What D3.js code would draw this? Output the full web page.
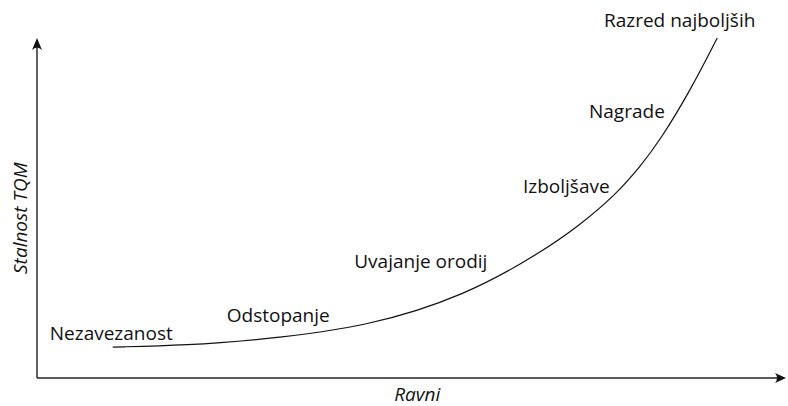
<!DOCTYPE html>
<html><head><meta charset="utf-8">
<script src="https://cdn.jsdelivr.net/npm/d3@7"></script>
<style>
html,body{margin:0;padding:0;background:#fff;}
text{font-family:"Open Sans",sans-serif;fill:#111;}
</style></head>
<body><svg id="c" width="788" height="406"></svg>
<script>
const curveX = [1.01, 2.0, 3.01, 4.4, 5.73, 6.71, 7.24, 7.71, 8.04, 8.31, 8.71, 9.07];
const curveY = [0.91, 0.96, 1.13, 1.5, 2.44, 3.68, 4.5, 5.38, 6.21, 7.0, 8.45, 10.0];
const stageLabels = ["Nezavezanost", "Odstopanje", "Uvajanje orodij", "Izboljšave", "Nagrade", "Razred najboljših"];
const stageX = [0.17, 2.53, 4.23, 6.48, 7.36, 7.56];
const stageY = [1.11, 1.65, 3.24, 5.44, 7.65, 10.32];
const xTitle = "Ravni";
const yTitle = "Stalnost TQM";

const svg = d3.select("#c");
const x = d3.scaleLinear().domain([0, 10]).range([37, 787]);
const y = d3.scaleLinear().domain([0, 10]).range([378, 38]);

// axes
const ax = "#222";
svg.append("line").attr("x1", x(0)).attr("x2", x(10) - 4).attr("y1", y(0)).attr("y2", y(0))
  .attr("stroke", ax).attr("stroke-width", 1.4);
svg.append("line").attr("x1", x(0)).attr("x2", x(0)).attr("y1", y(0)).attr("y2", y(10) + 4)
  .attr("stroke", ax).attr("stroke-width", 1.4);
// arrowheads
const tx = x(10) - 1, ty = y(0);
svg.append("path").attr("d", `M${tx},${ty} L${tx-11},${ty-5} Q${tx-7},${ty} ${tx-11},${ty+5} Z`).attr("fill", "#111");
const ux = x(0), uy = y(10);
svg.append("path").attr("d", `M${ux},${uy} L${ux-5},${uy+12} Q${ux},${uy+7} ${ux+5},${uy+12} Z`).attr("fill", "#111");

// curve
const pts = curveX.map((d, i) => [d, curveY[i]]);
svg.append("path").datum(pts)
  .attr("d", d3.line().x(d => x(d[0])).y(d => y(d[1])).curve(d3.curveBasis))
  .attr("fill", "none").attr("stroke", "#111").attr("stroke-width", 1.2);

// labels
svg.selectAll("text.stage").data(stageLabels).join("text").attr("class", "stage")
  .attr("x", (d, i) => x(stageX[i])).attr("y", (d, i) => y(stageY[i]))
  .attr("font-size", 19).text(d => d);

svg.append("text").attr("x", x(5.07)).attr("y", 401).attr("text-anchor", "middle")
  .attr("font-size", 19).attr("font-style", "italic").text(xTitle);
svg.append("text").attr("transform", `translate(27,${y(4.7)}) rotate(-90)`).attr("text-anchor", "middle")
  .attr("font-size", 19).attr("font-style", "italic").text(yTitle);
</script></body></html>
